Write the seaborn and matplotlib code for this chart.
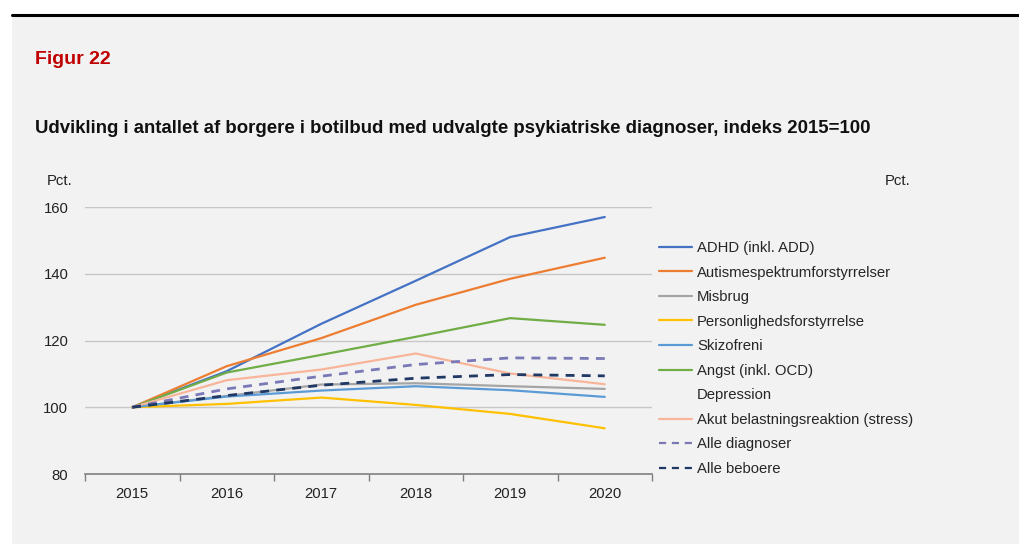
import matplotlib
matplotlib.use("Agg")
import matplotlib.pyplot as plt
from matplotlib.lines import Line2D
from matplotlib.patches import Rectangle
import seaborn as sns
import pandas as pd

years = [2015, 2016, 2017, 2018, 2019, 2020]
adhd = [100, 110.8, 125.0, 137.9, 151.0, 157.0]
autisme = [100, 112.3, 120.7, 130.7, 138.5, 144.8]
misbrug = [100, 103.4, 106.8, 107.2, 106.3, 105.5]
personlighed = [100, 101.0, 102.9, 100.7, 98.0, 93.7]
skizofreni = [100, 103.2, 105.0, 106.3, 105.1, 103.1]
angst = [100, 110.4, 115.7, 121.1, 126.7, 124.7]
akut = [100, 108.1, 111.3, 116.1, 110.1, 106.9]
alle_diagnoser = [100, 105.5, 109.3, 112.8, 114.8, 114.6]
alle_beboere = [100, 103.5, 106.6, 108.7, 109.8, 109.4]

series_names = ["ADHD (inkl. ADD)", "Autismespektrumforstyrrelser", "Misbrug",
                "Personlighedsforstyrrelse", "Skizofreni", "Angst (inkl. OCD)",
                "Akut belastningsreaktion (stress)", "Alle diagnoser", "Alle beboere"]
series_values = [adhd, autisme, misbrug, personlighed, skizofreni, angst, akut,
                 alle_diagnoser, alle_beboere]
legend_order = ["ADHD (inkl. ADD)", "Autismespektrumforstyrrelser", "Misbrug",
                "Personlighedsforstyrrelse", "Skizofreni", "Angst (inkl. OCD)",
                "Depression", "Akut belastningsreaktion (stress)", "Alle diagnoser",
                "Alle beboere"]
y_ticks = [80, 100, 120, 140, 160]

colors = ["#4472C4", "#ED7D31", "#A5A5A5", "#FFC000", "#5B9BD5", "#70AD47",
          "#F8B59A", "#7B78B8", "#203864"]
dashed = {"Alle diagnoser", "Alle beboere"}

rows = []
for name, vals in zip(series_names, series_values):
    for yr, v in zip(years, vals):
        rows.append({"year": yr, "value": v, "serie": name})
df = pd.DataFrame(rows)

sns.set_theme(style="white")
plt.rcParams["font.family"] = ["Liberation Sans", "DejaVu Sans"]

BG = "#F2F2F2"
fig = plt.figure(figsize=(10.2, 5.44), dpi=100, facecolor="white")
bg = Rectangle((12 / 1020, 0), 1 - 12 / 1020, (544 - 17) / 544,
               transform=fig.transFigure, facecolor=BG, edgecolor="none", zorder=-10)
fig.add_artist(bg)
fig.add_artist(Line2D([12 / 1020, 1], [1 - 15 / 544, 1 - 15 / 544], transform=fig.transFigure,
                      color="black", lw=2.2, zorder=-5))

ax = fig.add_axes([85 / 1020, 1 - 474 / 544, 567 / 1020, 267 / 544])
ax.set_facecolor("none")

palette = dict(zip(series_names, colors))
dash_map = {n: ((3.2, 2.6) if n in dashed else "") for n in series_names}
sns.lineplot(data=df, x="year", y="value", hue="serie", style="serie",
             palette=palette, dashes=dash_map, hue_order=series_names,
             style_order=series_names, ax=ax, legend=False, linewidth=1.6)
lines = ax.get_lines()
for ln, name in zip(lines, series_names):
    if name in dashed:
        ln.set_linewidth(2.0)

ax.set_xlim(2014.5, 2020.5)
ax.set_ylim(80, 160)
ax.set_yticks(y_ticks)
ax.set_yticklabels([str(t) for t in y_ticks])
ax.set_xticks(years)
ax.set_xticklabels([str(y) for y in years])
ax.set_xticks([2014.5 + i for i in range(7)], minor=True)
ax.tick_params(axis="x", which="major", length=0, pad=9, labelsize=10.7, colors="#222222")
ax.tick_params(axis="x", which="minor", bottom=True, length=5, width=1, color="#7F7F7F",
               direction="out")
ax.tick_params(axis="y", length=0, pad=12, labelsize=10.7, colors="#222222")
for t in y_ticks[1:]:
    ax.axhline(t, color="#C8C8C8", lw=1, zorder=0)
for s in ["top", "right", "left"]:
    ax.spines[s].set_visible(False)
ax.spines["bottom"].set_color("#7F7F7F")
ax.spines["bottom"].set_linewidth(1.2)
ax.set_xlabel("")
ax.set_ylabel("")

# legend
handle_map = {name: ln for name, ln in zip(series_names, lines)}
handles = []
for name in legend_order:
    if name in handle_map:
        src = handle_map[name]
        h = Line2D([0], [0], color=src.get_color(), lw=1.6,
                   linestyle=(0, (3.2, 2.6)) if name in dashed else "-")
    else:
        h = Line2D([0], [0], color="none", lw=1.6)
    handles.append(h)
fig.legend(handles, legend_order, loc="upper left", bbox_to_anchor=(659 / 1020, 1 - 241 / 544),
           frameon=False, fontsize=10.7, handlelength=2.25, handletextpad=0.3,
           labelspacing=0.71, borderaxespad=0, borderpad=0)

fig.text(35 / 1020, 1 - 59 / 544, "Figur 22", color="#C00000", fontsize=14,
         fontweight="bold", va="center", ha="left")
fig.text(35 / 1020, 1 - 129 / 544,
         "Udvikling i antallet af borgere i botilbud med udvalgte psykiatriske diagnoser, indeks 2015=100",
         color="#111111", fontsize=13.45, fontweight="bold", va="center", ha="left")
fig.text(47 / 1020, 1 - 181 / 544, "Pct.", fontsize=10.7, color="#222222", va="center", ha="left")
fig.text(885 / 1020, 1 - 181 / 544, "Pct.", fontsize=10.7, color="#222222", va="center", ha="left")

fig.savefig("out.png", dpi=100, facecolor="white")
